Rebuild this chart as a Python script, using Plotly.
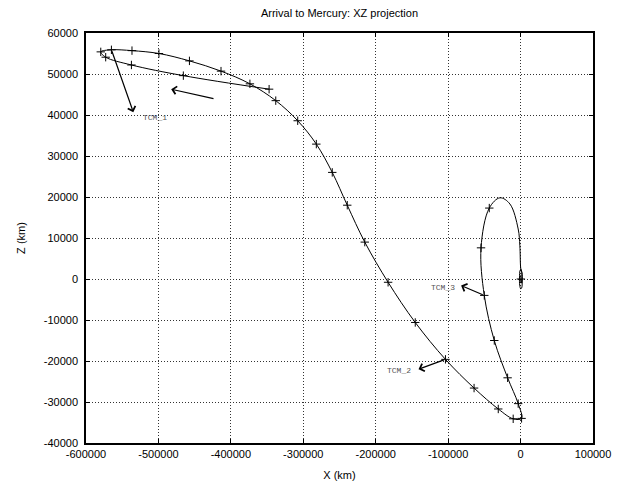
import plotly.graph_objects as go

# Trajectory (km), in order of travel
traj_x = [-347200, -465600, -537300, -572800, -579600, -564900, -536500, -499300,
          -457200, -413600, -373700, -338000, -307700, -282000, -260000, -239300,
          -215100, -182900, -145400, -103700, -64200, -30800, -10200, 1400,
          -3300, -17900, -36300, -50100, -54600, -43200, -28500, -14700, -3300,
          -1000, 400, 2000, 2300, 1500, 200, -1200, -1500, -800, 500, 1800, 1500, 400]
traj_z = [46300, 49600, 52200, 54100, 55400, 55900, 55700, 55000,
          53200, 50700, 47600, 43500, 38600, 32900, 26000, 18000,
          9000, -800, -10600, -19600, -26600, -31700, -34100, -34000,
          -30400, -24100, -15000, -4000, 7600, 17300, 19800, 18300, 12200,
          8100, 2400, 1500, -500, -2200, -2400, -1500, 500, 2000, 2400, 1200, -1000, 0]

# "+" markers along the trajectory
mark_x = [-347200, -465600, -537300, -572800, -579600, -564900, -536500, -499300,
          -457200, -413600, -373700, -338000, -307700, -282000, -260000, -239300,
          -215100, -182900, -145400, -103700, -64200, -30800, -10200, 1400,
          -3300, -17900, -36300, -50100, -54600, -43200, 400]
mark_z = [46300, 49600, 52200, 54100, 55400, 55900, 55700, 55000,
          53200, 50700, 47600, 43500, 38600, 32900, 26000, 18000,
          9000, -800, -10600, -19600, -26600, -31700, -34100, -34000,
          -30400, -24100, -15000, -4000, 7600, 17300, 0]

# Manoeuvre arrows: label, tail (x, z), head (x, z), label position
tcm_names = ["TCM_1", "TCM_2", "TCM_3"]
tcm_tail_x = [-564900, -103700, -50100]
tcm_tail_z = [55900, -19600, -4000]
tcm_head_x = [-534700, -140900, -82100]
tcm_head_z = [40700, -22000, -1600]
tcm_label_x = [-523700, -148100, -88000]
tcm_label_z = [39500, -22400, -2100]
tcm_label_anchor = ["left", "right", "right"]

# Direction-of-travel arrow
dir_tail = (-421900, 43900)
dir_head = (-482400, 46300)

x_ticks = [-600000, -500000, -400000, -300000, -200000, -100000, 0, 100000]
z_ticks = [-40000, -30000, -20000, -10000, 0, 10000, 20000, 30000, 40000, 50000, 60000]

FONT = "Liberation Sans, Arial, Helvetica, sans-serif"

fig = go.Figure()
fig.add_trace(go.Scatter(x=traj_x, y=traj_z, mode="lines",
                         line=dict(color="black", width=1, shape="spline", smoothing=1.0),
                         hoverinfo="skip", showlegend=False))
fig.add_trace(go.Scatter(x=mark_x, y=mark_z, mode="markers",
                         marker=dict(symbol="cross-thin", size=6,
                                     line=dict(color="black", width=1)),
                         showlegend=False))

annotations = []
for name, tx, tz, hx, hz, lx, lz, anc in zip(tcm_names, tcm_tail_x, tcm_tail_z,
                                            tcm_head_x, tcm_head_z, tcm_label_x,
                                            tcm_label_z, tcm_label_anchor):
    annotations.append(dict(x=hx, y=hz, ax=tx, ay=tz, xref="x", yref="y",
                            axref="x", ayref="y", showarrow=True, arrowhead=4,
                            arrowsize=1.3, arrowwidth=1.2, arrowcolor="black", text=""))
    annotations.append(dict(x=lx, y=lz, xref="x", yref="y", text=name, showarrow=False,
                            xanchor=anc, yanchor="middle",
                            font=dict(family="Liberation Mono, Courier New, monospace",
                                      size=8, color="#555555")))
annotations.append(dict(x=dir_head[0], y=dir_head[1], ax=dir_tail[0], ay=dir_tail[1],
                        xref="x", yref="y", axref="x", ayref="y", showarrow=True,
                        arrowhead=4, arrowsize=1.3, arrowwidth=1.2, arrowcolor="black",
                        text=""))

axis_common = dict(showline=True, linecolor="black", linewidth=1.5, mirror="ticks",
                   ticks="inside", ticklen=4, tickcolor="black", tickwidth=1,
                   showgrid=True, gridcolor="#333333", gridwidth=1, griddash="1px,2px",
                   zeroline=False, tickfont=dict(family=FONT, size=11, color="black"))

fig.update_layout(
    width=624, height=487,
    margin=dict(l=75, r=39, t=25, b=52),
    paper_bgcolor="white", plot_bgcolor="white",
    title=dict(text="Arrival to Mercury: XZ projection", x=0.5, xref="paper",
               y=1 - 5 / 487, yref="container", yanchor="middle",
               font=dict(family=FONT, size=11, color="black")),
    xaxis=dict(range=[-600000, 100000], tickvals=x_ticks,
               ticktext=[str(v) for v in x_ticks],
               title=dict(text="X (km)", standoff=12,
                          font=dict(family=FONT, size=11, color="black")),
               **axis_common),
    yaxis=dict(range=[-40000, 60000], tickvals=z_ticks,
               ticktext=[str(v) for v in z_ticks], ticklabelstandoff=4,
               title=dict(text="Z (km)", standoff=16,
                          font=dict(family=FONT, size=11, color="black")),
               **axis_common),
    annotations=annotations,
    showlegend=False,
)

fig.write_html("out.html")
